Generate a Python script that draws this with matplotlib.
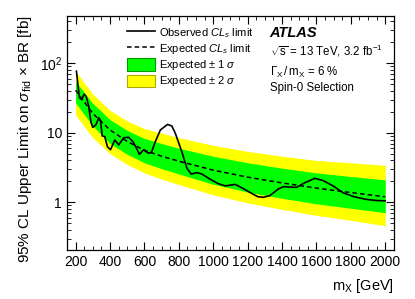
import numpy as np
import matplotlib
matplotlib.use('Agg')
import matplotlib.pyplot as plt
import matplotlib.patches as mpatches
from matplotlib.lines import Line2D
from matplotlib.ticker import FixedLocator, NullFormatter, FixedFormatter

plt.rcParams['font.family'] = ['Liberation Sans', 'DejaVu Sans']
plt.rcParams['mathtext.fontset'] = 'custom'
plt.rcParams['mathtext.rm'] = 'Liberation Sans'
plt.rcParams['mathtext.it'] = 'Liberation Sans:italic'

# expected limit and bands
mass_band = [200, 300, 400, 500, 600, 700, 800, 1000, 1200, 1400, 1600, 1800, 2000]
expected = [41, 19, 11, 7.5, 5.6, 4.6, 3.9, 2.9, 2.3, 1.9, 1.6, 1.38, 1.2]
green_lo = [27, 12.5, 7.0, 4.9, 3.7, 3.05, 2.55, 1.82, 1.40, 1.14, 0.95, 0.82, 0.71]
green_hi = [55, 26.5, 15.5, 10.8, 8.3, 7.0, 6.0, 4.6, 3.7, 3.1, 2.65, 2.35, 2.1]
yellow_lo = [18, 8.5, 5.0, 3.5, 2.65, 2.15, 1.8, 1.28, 0.98, 0.79, 0.65, 0.55, 0.46]
yellow_hi = [77, 36, 21, 14.8, 11.5, 9.9, 8.5, 6.6, 5.4, 4.6, 4.0, 3.7, 3.4]

# observed limit
mass_obs = [205, 215, 223, 235, 250, 262, 275, 290, 300, 318, 335, 345, 355, 370,
            385, 403, 428, 451, 480, 509, 534, 554, 571, 596, 621, 641, 660, 693,
            735, 760, 780, 818, 847, 872, 905, 934, 983, 1030, 1070, 1127, 1160,
            1224, 1260, 1292, 1330, 1378, 1408, 1440, 1485, 1530, 1591, 1640,
            1700, 1755, 1820, 1890, 1950, 2000]
observed = [77, 45, 32, 30, 36, 33, 25, 14, 12, 13, 16.5, 15, 9, 8.8,
            6.3, 5.7, 7.9, 6.7, 8.5, 8.6, 7.4, 6.0, 4.9, 5.7, 5.1, 5.2, 7.1, 11,
            13.2, 12.5, 9.8, 5.3, 3.1, 2.55, 2.67, 2.55, 2.14, 1.85, 1.72, 1.81, 1.65,
            1.34, 1.2, 1.18, 1.25, 1.55, 1.68, 1.66, 1.64, 1.9, 2.21, 2.05,
            1.7, 1.37, 1.2, 1.1, 1.06, 1.05]

fig = plt.figure(figsize=(4.15, 2.99), dpi=100)
ax = fig.add_axes([0.1614, 0.164, 0.949 - 0.1614, 0.9475 - 0.164])

ax.fill_between(mass_band, yellow_lo, yellow_hi, color='#ffff00', lw=0)
ax.fill_between(mass_band, green_lo, green_hi, color='#00ff00', lw=0)
ax.plot(mass_band, expected, color='black', lw=1.1, ls=(0, (3, 2)))
ax.plot(mass_obs, observed, color='black', lw=1.2)

ax.set_yscale('log')
ax.set_xlim(150, 2050)
ax.set_ylim(0.206, 484)

ax.xaxis.set_major_locator(FixedLocator(np.arange(200, 2001, 200)))
ax.xaxis.set_minor_locator(FixedLocator(np.arange(150, 2051, 50)))
ax.yaxis.set_major_locator(FixedLocator([1, 10, 100]))
ax.yaxis.set_major_formatter(FixedFormatter(['1', '10', '$10^2$']))
minors = [k * 10.0**e for e in (-1, 0, 1, 2) for k in range(2, 10)]
ax.yaxis.set_minor_locator(FixedLocator(minors))
ax.yaxis.set_minor_formatter(NullFormatter())

ax.tick_params(which='both', direction='in', top=True, right=True, labelsize=10)
ax.tick_params(which='major', length=5.5)
ax.tick_params(which='minor', length=2.8)
for s in ax.spines.values():
    s.set_linewidth(0.9)

ax.set_xlabel('m$_\\mathrm{X}$ [GeV]', fontsize=10.5, loc='right', labelpad=6)
ax.set_ylabel('95% CL Upper Limit on $\\sigma_\\mathrm{fid}$ $\\times$ BR [fb]', fontsize=11,
              loc='top', labelpad=4)

handles = [Line2D([], [], color='black', lw=1.2),
           Line2D([], [], color='black', lw=1.1, ls=(0, (3, 2))),
           mpatches.Patch(facecolor='#00ff00', edgecolor='#009900', lw=0.8),
           mpatches.Patch(facecolor='#ffff00', edgecolor='#aaaa00', lw=0.8)]
labels = ['Observed $CL_s$ limit', 'Expected $CL_s$ limit',
          'Expected $\\pm$ 1 $\\sigma$', 'Expected $\\pm$ 2 $\\sigma$']
ax.legend(handles, labels, loc='upper left', bbox_to_anchor=(0.17, 0.975), frameon=False,
          fontsize=8, handlelength=2.5, handleheight=1.3, labelspacing=0.2,
          handletextpad=0.35, borderaxespad=0)

fig.text(0.650, 0.875, 'ATLAS', fontsize=10.5, fontweight='bold', style='italic')
fig.text(0.650, 0.815, '$\\sqrt{\\mathrm{s}}$ = 13 TeV, 3.2 fb$^{-1}$', fontsize=8.3)
fig.text(0.650, 0.745, '$\\Gamma_\\mathrm{X}\\,/\\,\\mathrm{m}_\\mathrm{X}$ = 6 %', fontsize=8.3)
fig.text(0.650, 0.695, 'Spin-0 Selection', fontsize=8.3)

fig.savefig('out.png', dpi=100)
